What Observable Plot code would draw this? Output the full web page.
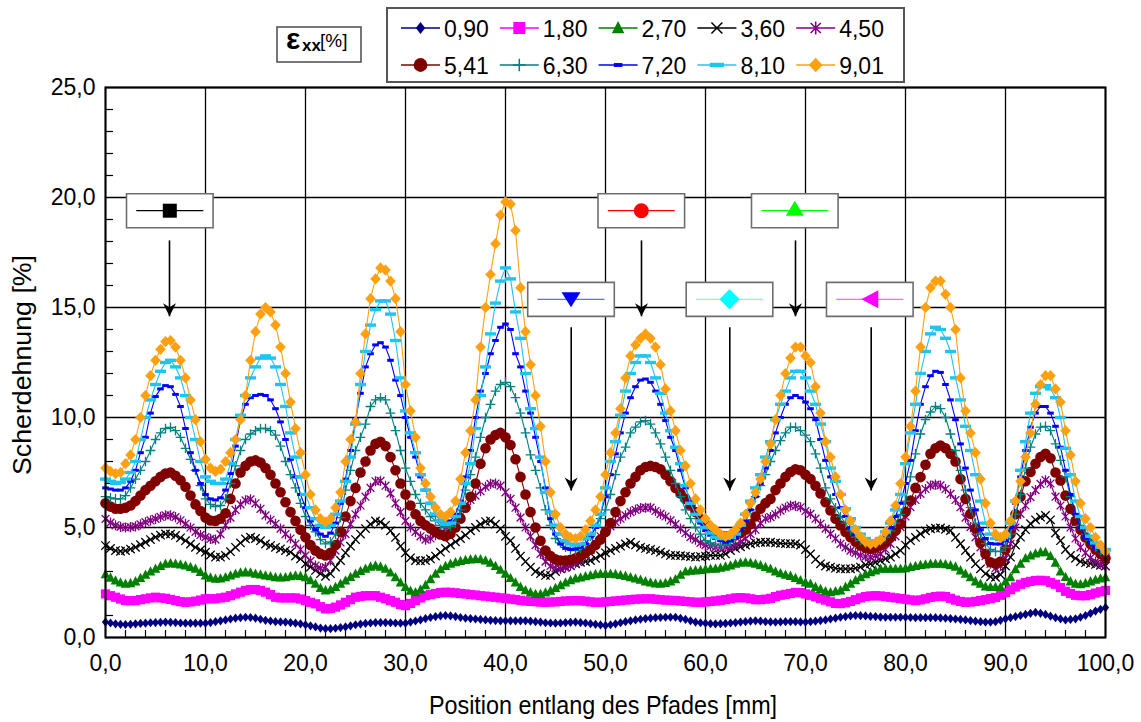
<!DOCTYPE html>
<html>
<head>
<meta charset="utf-8">
<script src="https://cdn.jsdelivr.net/npm/d3@7"></script>
<script src="https://cdn.jsdelivr.net/npm/@observablehq/plot@0.6"></script>
<style>
  html, body { margin: 0; padding: 0; background: #fff; }
  #wrap { position: relative; width: 1141px; height: 722px; overflow: hidden; background: #fff;
          font-family: "Liberation Sans", Arial, sans-serif; color: #000; }
  #wrap > svg { position: absolute; overflow: visible; }
  .title { position: absolute; white-space: nowrap; font-family: "Liberation Sans", Arial, sans-serif; color: #000; }
</style>
</head>
<body>
<div id="wrap"></div>
<script>
// ---------------- data ----------------
// measuring positions along the path [mm]
const positions = [0,0.5,1,1.5,2,2.5,3,3.5,4,4.5,5,5.5,6,6.5,7,7.5,8,8.5,9,9.5,
10,10.5,11,11.5,12,12.5,13,13.5,14,14.5,15,15.5,16,16.5,17,17.5,18,18.5,19,19.5,
20,20.5,21,21.5,22,22.5,23,23.5,24,24.5,25,25.5,26,26.5,27,27.5,28,28.5,29,29.5,
30,30.5,31,31.5,32,32.5,33,33.5,34,34.5,35,35.5,36,36.5,37,37.5,38,38.5,39,39.5,
40,40.5,41,41.5,42,42.5,43,43.5,44,44.5,45,45.5,46,46.5,47,47.5,48,48.5,49,49.5,
50,50.5,51,51.5,52,52.5,53,53.5,54,54.5,55,55.5,56,56.5,57,57.5,58,58.5,59,59.5,
60,60.5,61,61.5,62,62.5,63,63.5,64,64.5,65,65.5,66,66.5,67,67.5,68,68.5,69,69.5,
70,70.5,71,71.5,72,72.5,73,73.5,74,74.5,75,75.5,76,76.5,77,77.5,78,78.5,79,79.5,
80,80.5,81,81.5,82,82.5,83,83.5,84,84.5,85,85.5,86,86.5,87,87.5,88,88.5,89,89.5,
90,90.5,91,91.5,92,92.5,93,93.5,94,94.5,95,95.5,96,96.5,97,97.5,98,98.5,99,99.5,
100];

const seriesLabels = ["0,90","1,80","2,70","3,60","4,50","5,41","6,30","7,20","8,10","9,01"];

const strain090 = [0.70,0.66,0.62,0.60,0.59,0.60,0.62,0.64,0.65,0.67,0.68,0.69,0.70,0.69,0.68,0.66,0.65,0.65,0.65,0.65,
0.65,0.68,0.72,0.76,0.80,0.84,0.88,0.90,0.92,0.91,0.88,0.83,0.78,0.75,0.72,0.71,0.70,0.68,0.65,0.62,
0.58,0.53,0.48,0.43,0.40,0.40,0.42,0.45,0.48,0.53,0.58,0.61,0.64,0.66,0.68,0.68,0.68,0.67,0.66,0.65,
0.65,0.70,0.75,0.80,0.86,0.91,0.95,0.98,1.00,0.98,0.95,0.91,0.88,0.86,0.84,0.82,0.80,0.78,0.77,0.76,
0.76,0.76,0.76,0.76,0.76,0.74,0.72,0.70,0.67,0.66,0.65,0.66,0.68,0.69,0.70,0.68,0.66,0.63,0.60,0.57,
0.55,0.58,0.62,0.67,0.72,0.76,0.80,0.83,0.86,0.88,0.90,0.91,0.92,0.92,0.92,0.87,0.82,0.76,0.70,0.67,
0.65,0.63,0.62,0.63,0.64,0.66,0.68,0.70,0.72,0.74,0.76,0.74,0.72,0.71,0.70,0.71,0.72,0.72,0.72,0.71,
0.70,0.72,0.74,0.77,0.80,0.84,0.88,0.92,0.95,0.98,1.00,0.99,0.98,0.96,0.95,0.93,0.92,0.92,0.92,0.92,
0.92,0.91,0.90,0.90,0.90,0.90,0.90,0.89,0.88,0.86,0.84,0.82,0.80,0.77,0.74,0.72,0.70,0.70,0.72,0.78,
0.85,0.90,0.95,1.00,1.05,1.10,1.14,1.10,1.05,0.97,0.90,0.85,0.80,0.82,0.85,0.92,1.00,1.10,1.20,1.28,
1.36];

const strain180 = [1.98,1.90,1.83,1.75,1.68,1.67,1.68,1.72,1.76,1.80,1.83,1.80,1.78,1.73,1.68,1.63,1.60,1.62,1.65,1.70,
1.76,1.76,1.76,1.80,1.83,1.90,1.98,2.06,2.14,2.18,2.18,2.14,2.06,1.95,1.83,1.80,1.80,1.80,1.80,1.75,
1.68,1.60,1.53,1.40,1.30,1.32,1.38,1.48,1.60,1.72,1.83,1.87,1.90,1.90,1.90,1.83,1.76,1.68,1.60,1.50,
1.45,1.55,1.68,1.80,1.90,1.95,2.00,2.04,2.06,2.05,2.03,2.00,1.98,1.95,1.93,1.90,1.88,1.85,1.83,1.80,
1.78,1.75,1.72,1.69,1.66,1.64,1.63,1.61,1.60,1.61,1.62,1.64,1.66,1.67,1.68,1.67,1.65,1.62,1.60,1.60,
1.62,1.64,1.66,1.68,1.70,1.72,1.74,1.75,1.76,1.76,1.74,1.72,1.70,1.69,1.68,1.66,1.64,1.62,1.60,1.60,
1.62,1.64,1.66,1.69,1.72,1.76,1.80,1.81,1.80,1.76,1.72,1.72,1.74,1.78,1.86,1.92,1.96,2.00,2.05,2.04,
1.98,1.92,1.85,1.78,1.70,1.62,1.55,1.54,1.58,1.64,1.72,1.80,1.86,1.89,1.90,1.89,1.86,1.83,1.80,1.77,
1.74,1.71,1.68,1.71,1.76,1.82,1.86,1.88,1.86,1.78,1.70,1.64,1.60,1.61,1.64,1.68,1.72,1.77,1.82,1.92,
2.05,2.17,2.30,2.42,2.50,2.55,2.59,2.60,2.58,2.50,2.42,2.27,2.10,2.00,1.92,1.90,1.90,1.95,2.02,2.08,
2.14];

const strain270 = [2.88,2.72,2.59,2.50,2.44,2.47,2.55,2.70,2.85,3.00,3.12,3.25,3.35,3.37,3.35,3.32,3.27,3.20,3.12,2.98,
2.82,2.72,2.67,2.68,2.74,2.82,2.90,2.95,2.97,2.95,2.90,2.86,2.82,2.78,2.74,2.73,2.74,2.78,2.82,2.80,
2.74,2.60,2.44,2.25,2.14,2.18,2.29,2.44,2.59,2.75,2.90,3.02,3.12,3.22,3.27,3.22,3.12,2.95,2.74,2.50,
2.29,2.12,2.06,2.18,2.38,2.65,2.90,3.10,3.25,3.35,3.42,3.48,3.52,3.55,3.57,3.56,3.50,3.40,3.25,3.08,
2.90,2.70,2.50,2.30,2.15,2.05,1.98,1.98,2.04,2.12,2.25,2.38,2.50,2.60,2.68,2.73,2.78,2.83,2.88,2.90,
2.90,2.90,2.88,2.84,2.80,2.74,2.68,2.62,2.55,2.50,2.45,2.44,2.48,2.55,2.65,2.85,3.00,3.03,3.05,3.07,
3.10,3.12,3.13,3.17,3.22,3.27,3.35,3.40,3.42,3.40,3.35,3.28,3.20,3.12,3.00,2.92,2.85,2.80,2.70,2.60,
2.50,2.44,2.30,2.20,2.10,2.06,2.10,2.14,2.30,2.44,2.60,2.74,2.88,2.97,3.05,3.12,3.12,3.12,3.12,3.12,
3.15,3.20,3.25,3.29,3.32,3.35,3.35,3.35,3.33,3.28,3.22,3.05,2.90,2.74,2.55,2.44,2.32,2.29,2.29,2.29,
2.55,2.74,3.10,3.35,3.60,3.73,3.82,3.88,3.88,3.70,3.40,3.00,2.75,2.55,2.44,2.42,2.47,2.55,2.62,2.68,
2.74];

const strain360 = [4.18,4.05,3.95,3.92,3.95,4.02,4.10,4.22,4.33,4.45,4.56,4.65,4.71,4.70,4.64,4.53,4.40,4.25,4.10,3.98,
3.88,3.75,3.65,3.65,3.73,3.90,4.10,4.30,4.48,4.56,4.50,4.40,4.25,4.18,4.10,4.03,3.95,3.88,3.70,3.57,
3.35,3.20,3.05,2.90,2.78,2.90,3.20,3.50,3.85,4.15,4.45,4.70,4.95,5.15,5.30,5.25,5.10,4.85,4.55,4.15,
3.85,3.62,3.50,3.48,3.50,3.57,3.70,3.88,4.05,4.20,4.35,4.50,4.65,4.85,5.00,5.15,5.27,5.30,5.15,4.94,
4.60,4.40,4.05,3.70,3.45,3.20,3.00,2.90,2.82,2.82,3.00,3.12,3.20,3.27,3.35,3.42,3.45,3.50,3.60,3.72,
3.85,3.95,4.05,4.15,4.25,4.33,4.20,4.10,4.05,4.00,3.95,3.88,3.80,3.73,3.73,3.72,3.70,3.68,3.65,3.68,
3.70,3.73,3.73,3.73,3.80,3.95,4.05,4.12,4.20,4.26,4.30,4.33,4.33,4.33,4.30,4.28,4.27,4.26,4.26,4.20,
4.00,3.80,3.55,3.35,3.25,3.20,3.15,3.12,3.12,3.12,3.15,3.20,3.30,3.35,3.42,3.50,3.58,3.65,3.80,3.95,
4.20,4.40,4.55,4.71,4.85,4.94,4.97,4.98,4.92,4.86,4.55,4.26,3.95,3.65,3.35,3.12,2.90,2.76,2.74,2.85,
3.25,3.65,4.20,4.56,4.90,5.17,5.35,5.47,5.55,5.35,4.75,4.40,4.00,3.73,3.60,3.45,3.40,3.36,3.32,3.28,
3.25];

const strain450 = [5.39,5.22,5.10,5.03,5.00,5.02,5.05,5.14,5.24,5.32,5.39,5.48,5.55,5.55,5.47,5.33,5.17,5.00,4.80,4.66,
4.56,4.48,4.45,4.70,5.10,5.45,5.80,6.05,6.23,6.28,6.10,5.85,5.55,5.35,5.17,4.95,4.70,4.50,4.26,4.00,
3.73,3.48,3.27,3.15,3.20,3.50,3.95,4.32,4.70,5.15,5.60,6.00,6.40,6.80,7.10,7.12,6.90,6.55,6.10,5.70,
5.30,5.00,4.80,4.60,4.45,4.50,4.65,4.75,4.90,5.10,5.40,5.70,6.00,6.25,6.45,6.65,6.85,6.98,7.00,6.90,
6.60,6.30,5.90,5.45,5.00,4.60,4.20,3.80,3.45,3.25,3.15,3.13,3.18,3.26,3.38,3.52,3.72,3.98,4.30,4.60,
4.85,5.05,5.25,5.40,5.55,5.70,5.80,5.88,5.90,5.90,5.75,5.62,5.50,5.32,5.15,4.95,4.75,4.56,4.45,4.30,
4.20,4.15,4.10,4.10,4.10,4.12,4.20,4.35,4.50,4.70,4.90,5.20,5.40,5.47,5.60,5.77,5.90,6.00,5.98,5.92,
5.75,5.62,5.40,5.17,4.95,4.71,4.50,4.26,4.10,3.95,3.85,3.73,3.68,3.65,3.72,3.80,4.00,4.26,4.60,5.02,
5.50,5.92,6.25,6.53,6.75,6.91,6.95,6.91,6.75,6.53,6.25,5.92,5.45,5.02,4.55,4.10,3.70,3.35,3.15,3.25,
3.60,4.26,5.00,5.62,6.00,6.38,6.70,6.98,7.15,7.00,6.40,6.00,5.50,5.00,4.50,4.10,3.85,3.62,3.45,3.32,
3.25];

const strain541 = [6.10,5.95,5.85,5.85,5.90,6.00,6.20,6.45,6.70,6.90,7.10,7.30,7.45,7.50,7.35,7.15,6.85,6.45,6.05,5.75,
5.45,5.32,5.30,5.40,5.65,6.30,7.00,7.50,7.80,8.00,8.05,7.95,7.70,7.40,7.00,6.60,6.15,5.70,5.30,4.90,
4.56,4.20,3.95,3.80,3.73,3.85,4.20,4.80,5.50,6.20,6.80,7.50,8.00,8.50,8.80,8.90,8.70,8.20,7.60,7.00,
6.50,6.00,5.60,5.30,5.10,4.95,4.80,4.68,4.60,4.72,5.00,5.40,5.90,6.40,7.00,7.90,8.60,9.00,9.20,9.30,
9.10,8.75,8.10,7.30,6.50,5.70,5.00,4.40,3.95,3.70,3.55,3.50,3.50,3.53,3.60,3.70,3.85,4.00,4.20,4.45,
4.80,5.20,5.70,6.20,6.60,7.00,7.30,7.60,7.75,7.80,7.75,7.65,7.40,7.10,6.80,6.55,6.30,6.00,5.70,5.40,
5.15,4.95,4.75,4.63,4.60,4.60,4.65,4.75,4.90,5.15,5.50,5.85,6.10,6.30,6.70,7.00,7.30,7.52,7.65,7.60,
7.40,7.20,6.90,6.55,6.15,5.77,5.40,5.09,4.80,4.56,4.35,4.18,4.08,4.03,4.08,4.18,4.35,4.56,4.85,5.17,
5.70,6.23,6.80,7.29,7.85,8.35,8.60,8.73,8.60,8.35,8.00,7.20,6.30,5.62,4.95,4.30,3.80,3.42,3.35,3.45,
4.00,4.71,5.60,6.40,7.10,7.52,7.90,8.20,8.35,8.15,7.50,7.14,6.45,5.85,5.30,4.90,4.55,4.25,4.00,3.80,
3.60];

const strain630 = [6.40,6.35,6.30,6.30,6.45,6.80,7.20,7.60,8.00,8.50,9.00,9.30,9.50,9.55,9.40,9.10,8.60,8.10,7.60,6.90,
6.30,6.05,5.95,6.00,6.30,7.00,7.80,8.50,9.00,9.25,9.40,9.50,9.50,9.40,9.20,8.70,8.00,7.40,6.80,6.10,
5.50,5.10,4.80,4.45,4.26,4.35,4.70,5.45,6.70,7.60,8.50,9.10,9.70,10.50,10.80,10.90,10.80,10.20,9.40,8.50,
7.70,7.10,6.50,6.10,5.80,5.50,5.30,5.10,5.00,5.05,5.20,5.80,6.70,7.40,8.20,9.10,10.00,10.60,11.20,11.50,
11.60,11.40,10.90,10.20,9.30,8.30,7.60,6.80,5.80,5.10,4.50,4.30,4.10,4.00,3.95,4.05,4.26,4.60,5.00,5.40,
5.80,6.50,7.40,8.20,8.65,9.30,9.56,9.80,9.86,9.70,9.30,8.80,8.20,7.60,7.00,6.40,5.80,5.40,5.00,4.70,
4.40,4.30,4.20,4.18,4.20,4.35,4.56,4.90,5.30,5.80,6.40,6.90,7.40,8.00,8.50,8.95,9.30,9.56,9.56,9.40,
9.20,8.90,8.35,7.70,6.80,6.30,5.90,5.50,5.20,4.85,4.56,4.40,4.27,4.22,4.27,4.40,4.56,4.85,5.20,5.60,
6.20,7.30,8.35,9.25,9.90,10.25,10.50,10.40,10.00,9.25,8.50,7.60,6.70,5.90,5.20,4.70,4.27,4.00,3.90,3.92,
4.10,4.70,5.60,6.50,7.70,8.65,9.25,9.56,9.60,9.40,8.80,8.05,7.30,6.40,5.60,5.10,4.70,4.40,4.10,3.95,
3.80];

const strain720 = [6.80,6.75,6.70,6.70,6.80,7.10,7.60,8.40,9.10,10.20,10.95,11.30,11.45,11.40,11.05,10.50,9.50,8.40,7.60,7.00,
6.50,6.30,6.25,6.35,6.70,7.45,8.70,9.90,10.60,10.90,11.00,11.05,11.00,10.80,10.40,9.80,9.00,8.10,7.30,6.50,
5.90,5.30,4.90,4.70,4.60,4.75,5.20,6.10,7.20,8.50,9.90,11.10,12.30,12.90,13.30,13.40,13.20,12.60,11.70,11.00,
10.00,9.10,8.20,7.30,6.70,6.10,5.60,5.30,5.24,5.30,5.60,6.20,7.30,8.50,10.00,11.20,12.00,12.90,13.50,14.10,
14.25,14.00,12.90,12.30,11.20,10.20,9.10,8.00,6.80,5.40,4.70,4.25,4.05,4.00,4.03,4.10,4.26,4.56,5.00,5.60,
6.40,7.40,8.35,9.30,10.20,10.90,11.40,11.70,11.75,11.60,11.20,10.60,9.86,9.10,8.50,7.60,6.80,6.20,5.60,5.20,
4.86,4.65,4.50,4.40,4.33,4.40,4.56,4.90,5.30,5.80,6.40,7.00,7.70,8.50,9.30,10.00,10.60,10.90,11.00,10.90,
10.70,10.40,9.90,9.00,8.05,7.30,6.50,5.90,5.50,5.00,4.70,4.50,4.34,4.30,4.34,4.45,4.70,5.00,5.50,6.10,
7.00,8.05,9.40,10.60,11.40,11.90,12.10,12.05,11.50,10.80,9.90,8.80,7.70,6.70,5.80,4.90,4.50,4.27,4.25,4.25,
4.40,5.00,6.10,7.30,8.50,9.56,10.20,10.50,10.50,10.20,9.60,8.65,7.60,6.50,5.60,5.00,4.55,4.30,4.10,3.95,
3.80];

const strain810 = [7.20,7.10,7.00,7.05,7.20,7.50,8.00,9.00,10.00,10.80,11.50,12.10,12.50,12.60,12.30,11.80,11.00,10.00,9.00,8.00,
7.30,7.10,7.00,7.00,7.20,7.90,9.00,10.10,11.00,11.80,12.30,12.70,12.80,12.70,12.30,11.50,10.50,9.30,8.20,7.30,
6.50,5.90,5.40,5.10,5.00,5.10,5.60,6.20,7.10,8.20,9.70,11.50,13.00,14.20,14.90,15.30,15.30,14.70,13.50,11.80,
10.30,9.30,8.40,7.40,6.70,6.10,5.60,5.30,5.15,5.20,5.50,6.10,7.00,7.90,9.50,11.00,12.30,13.80,15.20,16.20,
16.80,16.30,14.80,13.60,12.00,10.40,9.50,8.20,6.60,5.70,5.10,4.70,4.40,4.25,4.20,4.25,4.50,4.70,5.10,5.60,
6.80,8.00,8.90,10.10,11.20,12.00,12.50,12.80,12.80,12.50,11.80,11.10,10.20,9.40,8.65,7.90,6.90,6.10,5.60,5.30,
5.00,4.75,4.56,4.50,4.50,4.55,4.70,5.10,5.60,6.20,6.80,7.40,8.20,8.90,9.90,10.60,11.20,11.80,12.10,12.10,
11.80,11.20,10.60,9.70,8.90,7.70,7.10,6.50,5.85,5.40,5.00,4.70,4.50,4.40,4.40,4.50,4.80,5.20,5.80,6.50,
7.90,9.30,10.60,12.00,13.00,13.80,14.10,14.00,13.60,13.00,11.80,10.80,9.60,8.50,7.40,6.20,5.20,4.70,4.50,4.45,
4.60,5.20,6.20,7.60,8.90,10.20,11.10,11.40,11.45,11.30,10.90,10.00,8.60,7.40,6.20,5.50,5.00,4.60,4.30,4.10,
4.00];

const strain901 = [7.70,7.55,7.45,7.50,7.90,8.30,9.00,10.00,11.00,11.90,12.60,13.10,13.45,13.50,13.20,12.60,11.80,10.80,9.90,8.90,
8.10,7.70,7.55,7.65,8.00,8.40,9.00,9.90,11.00,12.60,13.90,14.70,15.00,14.80,14.20,13.20,12.00,10.70,9.50,8.40,
7.40,6.50,5.80,5.40,5.25,5.40,5.90,6.60,8.00,9.00,9.80,12.00,13.80,15.40,16.30,16.80,16.70,16.20,15.40,13.90,
11.50,10.30,9.10,7.70,7.00,6.40,5.90,5.60,5.50,5.70,6.20,7.20,8.40,9.40,10.80,13.20,15.00,16.50,17.90,19.20,
19.80,19.70,18.50,15.90,13.90,12.40,11.00,9.60,8.00,6.60,5.60,5.00,4.70,4.55,4.50,4.60,4.90,5.30,5.80,6.40,
7.40,8.40,9.30,10.40,11.80,12.80,13.30,13.60,13.80,13.60,13.20,12.40,11.30,10.30,9.40,8.50,7.80,7.00,6.30,5.80,
5.40,5.10,4.90,4.70,4.60,4.70,4.90,5.20,5.60,6.10,6.60,7.20,8.00,8.80,9.90,11.00,12.00,12.70,13.20,13.20,
12.80,12.50,11.40,10.20,8.90,8.20,7.30,6.50,5.80,5.30,4.90,4.60,4.35,4.25,4.30,4.45,4.80,5.30,6.00,7.00,
8.20,9.60,11.20,13.20,15.00,15.90,16.20,16.20,15.60,15.00,14.00,11.80,10.30,9.30,8.40,7.20,6.10,5.20,4.70,4.55,
4.70,5.30,6.20,7.10,8.20,9.30,10.60,11.50,11.90,11.90,11.30,10.70,9.40,8.30,7.10,6.10,5.40,5.00,4.55,4.20,
3.90];

const seriesValues = [strain090, strain180, strain270, strain360, strain450,
                      strain541, strain630, strain720, strain810, strain901];

// axis ticks
const majorX = [0,10,20,30,40,50,60,70,80,90,100];
const majorY = [0,5,10,15,20,25];
const minorX = [2,4,6,8,12,14,16,18,22,24,26,28,32,34,36,38,42,44,46,48,52,54,56,58,62,64,66,68,72,74,76,78,82,84,86,88,92,94,96,98];
const minorY = [1,2,3,4,6,7,8,9,11,12,13,14,16,17,18,19,21,22,23,24];

// annotation markers (position along path in mm, strain value)
const annotX   = [6.43, 53.58, 68.93, 46.55, 62.40, 76.43];
const annotY   = [19.40, 19.40, 19.40, 15.37, 15.37, 15.37];
const arrowX   = [6.40, 53.60, 69.00, 46.57, 62.43, 76.57];
const arrowTop = [18.05, 18.05, 18.05, 14.10, 14.10, 14.10];
const arrowTip = [14.60, 14.60, 14.60, 6.68, 6.68, 6.68];

// ---------------- symbols & styles ----------------
const symDiamond = (hw, hh) => ({draw(c){c.moveTo(0,-hh);c.lineTo(hw,0);c.lineTo(0,hh);c.lineTo(-hw,0);c.closePath();}});
const symSquare  = h => ({draw(c){c.moveTo(-h,-h);c.lineTo(h,-h);c.lineTo(h,h);c.lineTo(-h,h);c.closePath();}});
const symTriUp   = (hw, top, bot) => ({draw(c){c.moveTo(0,-top);c.lineTo(hw,bot);c.lineTo(-hw,bot);c.closePath();}});
const symTriDown = (hw, top, bot) => ({draw(c){c.moveTo(-hw,-top);c.lineTo(hw,-top);c.lineTo(0,bot);c.closePath();}});
const symTriLeft = (hw, hh) => ({draw(c){c.moveTo(-hw,0);c.lineTo(hw,-hh);c.lineTo(hw,hh);c.closePath();}});
const symTimes   = h => ({draw(c){c.moveTo(-h,-h);c.lineTo(h,h);c.moveTo(h,-h);c.lineTo(-h,h);}});
const symAster   = h => ({draw(c){c.moveTo(-h,-h);c.lineTo(h,h);c.moveTo(h,-h);c.lineTo(-h,h);c.moveTo(0,-h*1.3);c.lineTo(0,h*1.3);}});
const symCircle  = r => ({draw(c){c.moveTo(r,0);c.arc(0,0,r,0,2*Math.PI);}});
const symPlus    = h => ({draw(c){c.moveTo(-h,0);c.lineTo(h,0);c.moveTo(0,-h);c.lineTo(0,h);}});
const symRect    = (hw, hh) => ({draw(c){c.moveTo(-hw,-hh);c.lineTo(hw,-hh);c.lineTo(hw,hh);c.lineTo(-hw,hh);c.closePath();}});
const symHLine   = hw => ({draw(c){c.moveTo(-hw,0);c.lineTo(hw,0);}});
const symArrow   = {draw(c){c.moveTo(0,0);c.lineTo(-6.5,-13);c.lineTo(0,-9);c.lineTo(6.5,-13);c.closePath();}};

const seriesStyle = [
  {color:"#000080", symbol:symDiamond(3.6,4.6), filled:true},
  {color:"#ff00ff", symbol:symSquare(4.6),      filled:true},
  {color:"#008000", symbol:symTriUp(4.8,5.3,4), filled:true},
  {color:"#000000", symbol:symTimes(4.2),       filled:false},
  {color:"#800080", symbol:symAster(3.9),       filled:false},
  {color:"#800000", symbol:symCircle(5.3),      filled:true},
  {color:"#008080", symbol:symPlus(4.8),        filled:false},
  {color:"#0000ff", symbol:symRect(3.3,1.5),    filled:true},
  {color:"#1ec4f2", symbol:symRect(5.5,1.7),    filled:true},
  {color:"#ffa010", symbol:symDiamond(5.3,5.6), filled:true}
];

const annotStyle = [
  {color:"#000000", line:"#000000", symbol:symSquare(7)},
  {color:"#ff0000", line:"#ff0000", symbol:symCircle(7.5)},
  {color:"#00ff00", line:"#00ff00", symbol:symTriUp(9,10,5)},
  {color:"#0000ff", line:"#6a6aff", symbol:symTriDown(9.5,7,8)},
  {color:"#00ffff", line:"#70ffff", symbol:symDiamond(10,10)},
  {color:"#ff00ff", line:"#ff66ff", symbol:symTriLeft(8.5,9)}
];

// ---------------- build table ----------------
const table = [];
seriesLabels.forEach((lab, i) => {
  seriesValues[i].forEach((v, j) => table.push({pos: positions[j], val: v, series: lab}));
});
const annots = annotX.map((x, i) => ({x, y: annotY[i], ax: arrowX[i], top: arrowTop[i], tip: arrowTip[i], i}));

const fmt = d => d.toFixed(1).replace(".", ",");

const marks = [
  Plot.gridX({ticks: majorX, stroke: "#000", strokeOpacity: 1, strokeWidth: 1.3}),
  Plot.gridY({ticks: majorY, stroke: "#000", strokeOpacity: 1, strokeWidth: 1.3}),
  Plot.ruleX(minorX, {x: d => d, y1: 0, y2: 0, insetTop: -7, stroke: "#000", strokeWidth: 1.2}),
  Plot.ruleY(minorY, {y: d => d, x1: 0, x2: 0, insetRight: -8, stroke: "#000", strokeWidth: 1.2})
];

seriesLabels.forEach((lab, i) => {
  const st = seriesStyle[i];
  const rows = table.filter(d => d.series === lab);
  marks.push(Plot.line(rows, {x: "pos", y: "val", stroke: st.color, strokeWidth: 1.1}));
  marks.push(Plot.dot(rows, {x: "pos", y: "val", symbol: st.symbol, r: 4,
    fill: st.filled ? st.color : "none", stroke: st.filled ? "none" : st.color,
    strokeWidth: st.filled ? 0 : 1.3}));
});

// annotations
marks.push(Plot.link(annots, {x1: "ax", x2: "ax", y1: "top", y2: "tip", stroke: "#000", strokeWidth: 1.6}));
marks.push(Plot.dot(annots, {x: "ax", y: "tip", symbol: symArrow, r: 4, fill: "#000", stroke: "none"}));
marks.push(Plot.dot(annots, {x: "x", y: "y", symbol: symRect(43.3,17), r: 4, fill: "#fff", stroke: "#6e6e6e", strokeWidth: 1.6}));
annots.forEach((a, i) => {
  const st = annotStyle[i];
  marks.push(Plot.dot([a], {x: "x", y: "y", symbol: symHLine(33.5), r: 4, fill: "none", stroke: st.line, strokeWidth: 1.3}));
  marks.push(Plot.dot([a], {x: "x", y: "y", symbol: st.symbol, r: 4, fill: st.color, stroke: "none"}));
});

marks.push(Plot.frame({stroke: "#000", strokeWidth: 2}));
marks.push(Plot.axisX({ticks: majorX, tickFormat: fmt, tickSize: 0, tickPadding: 17, label: null}));
marks.push(Plot.axisY({ticks: majorY, tickFormat: fmt, tickSize: 0, tickPadding: 10, label: null}));

const chart = Plot.plot({
  width: 1141, height: 722,
  marginLeft: 105, marginRight: 36, marginTop: 87, marginBottom: 85,
  x: {domain: [0, 100]},
  y: {domain: [0, 25]},
  style: {fontFamily: '"Liberation Sans", Arial, sans-serif', fontSize: "23px", color: "#000", background: "transparent", overflow: "visible"},
  marks
});
const wrap = document.getElementById("wrap");
chart.style.left = "0px"; chart.style.top = "0px";
wrap.appendChild(chart);

// ---------------- legend ----------------
const leg = d3.select(wrap).append("svg")
  .attr("width", 520).attr("height", 77)
  .style("left", "386px").style("top", "7px");
leg.append("rect").attr("x", 1).attr("y", 1).attr("width", 517).attr("height", 74)
  .attr("fill", "#fff").attr("stroke", "#555").attr("stroke-width", 2);
seriesLabels.forEach((lab, i) => {
  const st = seriesStyle[i];
  const col = i % 5, row = Math.floor(i / 5);
  const x0 = 15 + col * 98.8, cy = 21 + row * 37;
  const g = leg.append("g");
  g.append("line").attr("x1", x0).attr("x2", x0 + 39).attr("y1", cy).attr("y2", cy)
    .attr("stroke", st.color).attr("stroke-width", 1.3);
  g.append("path").attr("d", d3.symbol(st.symbol)())
    .attr("transform", `translate(${x0 + 19.5},${cy}) scale(1.3)`)
    .attr("fill", st.filled ? st.color : "none")
    .attr("stroke", st.filled ? "none" : st.color)
    .attr("stroke-width", st.filled ? 0 : 1.2);
  g.append("text").attr("x", x0 + 43).attr("y", cy + 8.5).text(lab)
    .attr("font-family", '"Liberation Sans", Arial, sans-serif').attr("font-size", 23).attr("fill", "#000");
});

// ---------------- epsilon label ----------------
const eps = d3.select(wrap).append("svg")
  .attr("width", 92).attr("height", 50)
  .style("left", "274px").style("top", "18px");
eps.append("rect").attr("x", 3).attr("y", 9).attr("width", 84).attr("height", 35)
  .attr("fill", "#fff").attr("stroke", "#555").attr("stroke-width", 1.6);
const et = eps.append("text").attr("font-family", '"Liberation Sans", Arial, sans-serif').attr("fill", "#000");
et.append("tspan").attr("x", 12).attr("y", 31).attr("font-size", 30).attr("font-weight", "bold").text("ε");
et.append("tspan").attr("x", 28).attr("y", 33).attr("font-size", 17).attr("font-weight", "bold").text("xx");
et.append("tspan").attr("x", 46).attr("y", 29).attr("font-size", 19).text("[%]");

// ---------------- axis titles ----------------
const xt = document.createElement("div");
xt.className = "title";
xt.textContent = "Position entlang des Pfades [mm]";
xt.style.cssText += "left:603px;top:690px;font-size:25px;transform:translateX(-50%) scaleX(0.935);line-height:30px;";
wrap.appendChild(xt);

const yt = document.createElement("div");
yt.className = "title";
yt.textContent = "Scherdehnung [%]";
yt.style.cssText += "left:22px;top:365px;font-size:25px;line-height:30px;transform:translate(-50%,-50%) rotate(-90deg) scaleX(1.07);";
wrap.appendChild(yt);
</script>
</body>
</html>
